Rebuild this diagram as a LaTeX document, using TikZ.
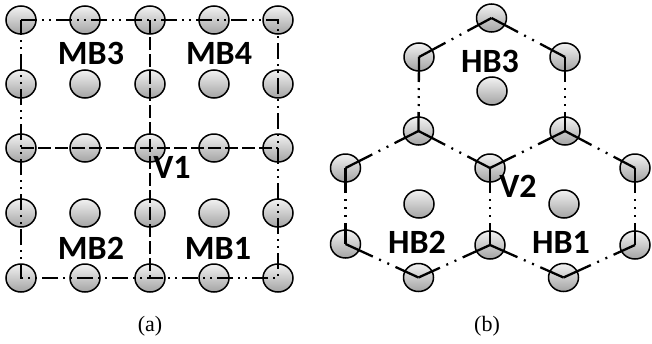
\documentclass[tikz,border=0pt]{standalone}
\usepackage{fontspec}
\setmainfont{Liberation Serif}
\newfontfamily\lblfont{Carlito}
\usetikzlibrary{shapes.geometric}

\begin{document}
\begin{tikzpicture}[x=1pt,y=-1pt,
  ball/.style={ellipse, draw=black, line width=1.5pt, minimum width=30pt,
    minimum height=28pt, inner sep=0pt, top color=black!5, bottom color=black!36},
  dddline/.style={line width=2.3pt,
    dash pattern=on 16pt off 5pt on 2pt off 5pt on 2pt off 5pt},
  innerline/.style={line width=2.3pt, dash pattern=on 13pt off 4pt},
  slantedge/.style={line width=2.3pt,
    dash pattern=on 30pt off 7pt on 2pt off 7pt on 2pt off 7pt on 60pt off 1pt},
  vertedge/.style={line width=2.3pt,
    dash pattern=on 25pt off 6pt on 2pt off 6pt on 2pt off 6pt on 2pt off 6pt on 60pt off 1pt},
  blabel/.style={font=\lblfont\bfseries\fontsize{34}{34}\selectfont, inner sep=0pt},
  caption/.style={font=\fontsize{22}{22}\selectfont, inner sep=0pt}]

\useasboundingbox (0,0) rectangle (652,343);

% ---------- (a) square blocks ----------
\foreach \c [count=\i] in {21,85,150,214,278}{
  \foreach \r [count=\j] in {20,84,148,213,278}{
    \node[ball] (a\i\j) at (\c,\r) {};
  }
}
\draw[dddline] (a11.center) -- (a51.center) -- (a55.center) -- (a15.center) -- cycle;
\draw[innerline] (a31.center) -- (a35.center);
\draw[innerline] (a13.center) -- (a53.center);

\node[blabel] (mb3) at (91,53)  {MB3};
\node[blabel] (mb4) at (219,53) {MB4};
\node[blabel] (mb2) at (91,248) {MB2};
\node[blabel] (mb1) at (218,248) {MB1};
\node[blabel] (v1)  at (172,167) {V1};
\node[caption] (capa) at (150,326) {(a)};

% ---------- (b) hexagonal blocks ----------
\node[ball] (T)  at (491.5,18) {};
\node[ball] (UL) at (419,57) {};
\node[ball] (UR) at (565,57) {};
\node[ball] (C3) at (492,91) {};
\node[ball] (ML) at (418.5,131) {};
\node[ball] (MR) at (565,131) {};
\node[ball] (L4) at (345.5,168) {};
\node[ball] (M4) at (490,168) {};
\node[ball] (R4) at (635,168) {};
\node[ball] (C2) at (419,204) {};
\node[ball] (C1) at (564,204) {};
\node[ball] (L5) at (345.5,244) {};
\node[ball] (M5) at (490,245) {};
\node[ball] (R5) at (635,245) {};
\node[ball] (B2) at (418.5,277.5) {};
\node[ball] (B1) at (563.5,277.5) {};

% slanted sides of the three hexagons
\foreach \p/\q in {UL/T, T/UR, ML/M4, MR/M4, L4/ML, MR/R4,
                   L5/B2, M5/B2, B1/R5, M5/B1}{
  \draw[slantedge] (\p.center) -- (\q.center);
}
% vertical sides
\foreach \p/\q in {UL/ML, UR/MR, L4/L5, M4/M5, R4/R5}{
  \draw[vertedge] (\p.center) -- (\q.center);
}

\node[blabel] (hb3) at (490,61)  {HB3};
\node[blabel] (hb2) at (417,242) {HB2};
\node[blabel] (hb1) at (561,242) {HB1};
\node[blabel] (v2)  at (518,186) {V2};
\node[caption] (capb) at (487,326) {(b)};
\end{tikzpicture}
\end{document}
